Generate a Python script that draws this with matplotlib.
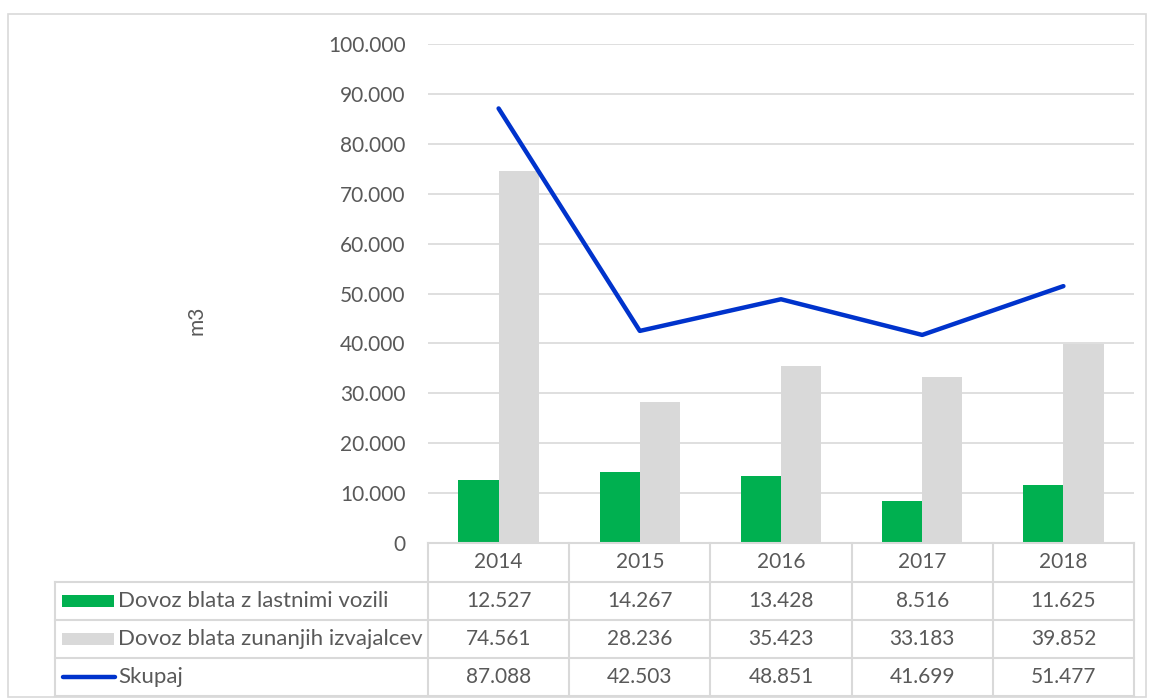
import matplotlib.pyplot as plt
import matplotlib.patches as mpatches
from matplotlib.lines import Line2D
import numpy as np

# podatki
leta = ["2014", "2015", "2016", "2017", "2018"]
lastna = [12527, 14267, 13428, 8516, 11625]
zunanji = [74561, 28236, 35423, 33183, 39852]
skupaj = [87088, 42503, 48851, 41699, 51477]
serije = ["Dovoz blata z lastnimi vozili", "Dovoz blata zunanjih izvajalcev", "Skupaj"]

W, H = 1149, 698
green = "#00B050"
grey = "#D9D9D9"
blue = "#0033CC"
txt = "#595959"
fs = 15
plt.rcParams["font.family"] = ["Lato", "DejaVu Sans"]


def fx(px):
    return px / W


def fy(py):
    return 1 - py / H


def fmt(v):
    return "{:,}".format(int(v)).replace(",", ".")


fig = plt.figure(figsize=(W / 100, H / 100), dpi=100)

# okvir grafikona
fig.add_artist(mpatches.Rectangle((fx(8), fy(697)), fx(1146) - fx(8), fy(14) - fy(697),
                                  transform=fig.transFigure, fill=False, ec=grey, lw=1.2))

left, right, top, bottom = 428, 1134, 44, 543
ax = fig.add_axes([fx(left), fy(bottom), fx(right) - fx(left), fy(top) - fy(bottom)])

x = np.arange(len(leta))
w = 0.285
ax.bar(x - w / 2, lastna, w, color=green, zorder=2)
ax.bar(x + w / 2, zunanji, w, color=grey, zorder=2)
ax.plot(x, skupaj, color=blue, lw=3.2, solid_capstyle="round", zorder=3)

ax.set_xlim(-0.5, len(leta) - 0.5)
ax.set_ylim(0, 100000)
ax.set_yticks(np.arange(0, 100001, 10000))
ax.set_yticklabels([fmt(v) for v in np.arange(0, 100001, 10000)], fontsize=fs, color=txt)
ax.yaxis.grid(True, color=grey, lw=1.2, zorder=0)
ax.tick_params(axis="y", length=0, pad=16)
ax.set_xticks([])
for s in ax.spines.values():
    s.set_visible(False)

fig.text(fx(197), fy(320), "m3", rotation=90, ha="center", va="center", fontsize=fs, color=txt)

# tabela s podatki
rows = [543, 582, 620, 658, 696]
cols = [left + i * (right - left) / len(leta) for i in range(len(leta) + 1)]
tleft = 55
lc = dict(color=grey, lw=1.5, transform=fig.transFigure)
# glava
fig.add_artist(Line2D([fx(left), fx(right)], [fy(rows[0]), fy(rows[0])], **lc))
for r in rows[1:]:
    fig.add_artist(Line2D([fx(tleft), fx(right)], [fy(r), fy(r)], **lc))
for c in cols:
    fig.add_artist(Line2D([fx(c), fx(c)], [fy(rows[0]), fy(rows[-1])], **lc))
fig.add_artist(Line2D([fx(tleft), fx(tleft)], [fy(rows[1]), fy(rows[-1])], **lc))

for i, leto in enumerate(leta):
    cx = (cols[i] + cols[i + 1]) / 2
    fig.text(fx(cx), fy((rows[0] + rows[1]) / 2), leto, ha="center", va="center", fontsize=fs, color=txt)

vrednosti = [lastna, zunanji, skupaj]
for j, (ime, vals) in enumerate(zip(serije, vrednosti)):
    cy = (rows[j + 1] + rows[j + 2]) / 2
    for i, v in enumerate(vals):
        cx = (cols[i] + cols[i + 1]) / 2
        fig.text(fx(cx), fy(cy), fmt(v), ha="center", va="center", fontsize=fs, color=txt)
    fig.text(fx(118), fy(cy), ime, ha="left", va="center", fontsize=16, color=txt)

# legendni kljuci
for j, col in enumerate([green, grey]):
    cy = (rows[j + 1] + rows[j + 2]) / 2
    fig.add_artist(mpatches.Rectangle((fx(62), fy(cy + 6)), fx(114) - fx(62), fy(cy - 6) - fy(cy + 6),
                                      transform=fig.transFigure, color=col, lw=0))
cy = (rows[3] + rows[4]) / 2
fig.add_artist(Line2D([fx(63), fx(115)], [fy(cy), fy(cy)], color=blue, lw=3.2,
                      solid_capstyle="round", transform=fig.transFigure))

plt.savefig("out.png", dpi=100)
